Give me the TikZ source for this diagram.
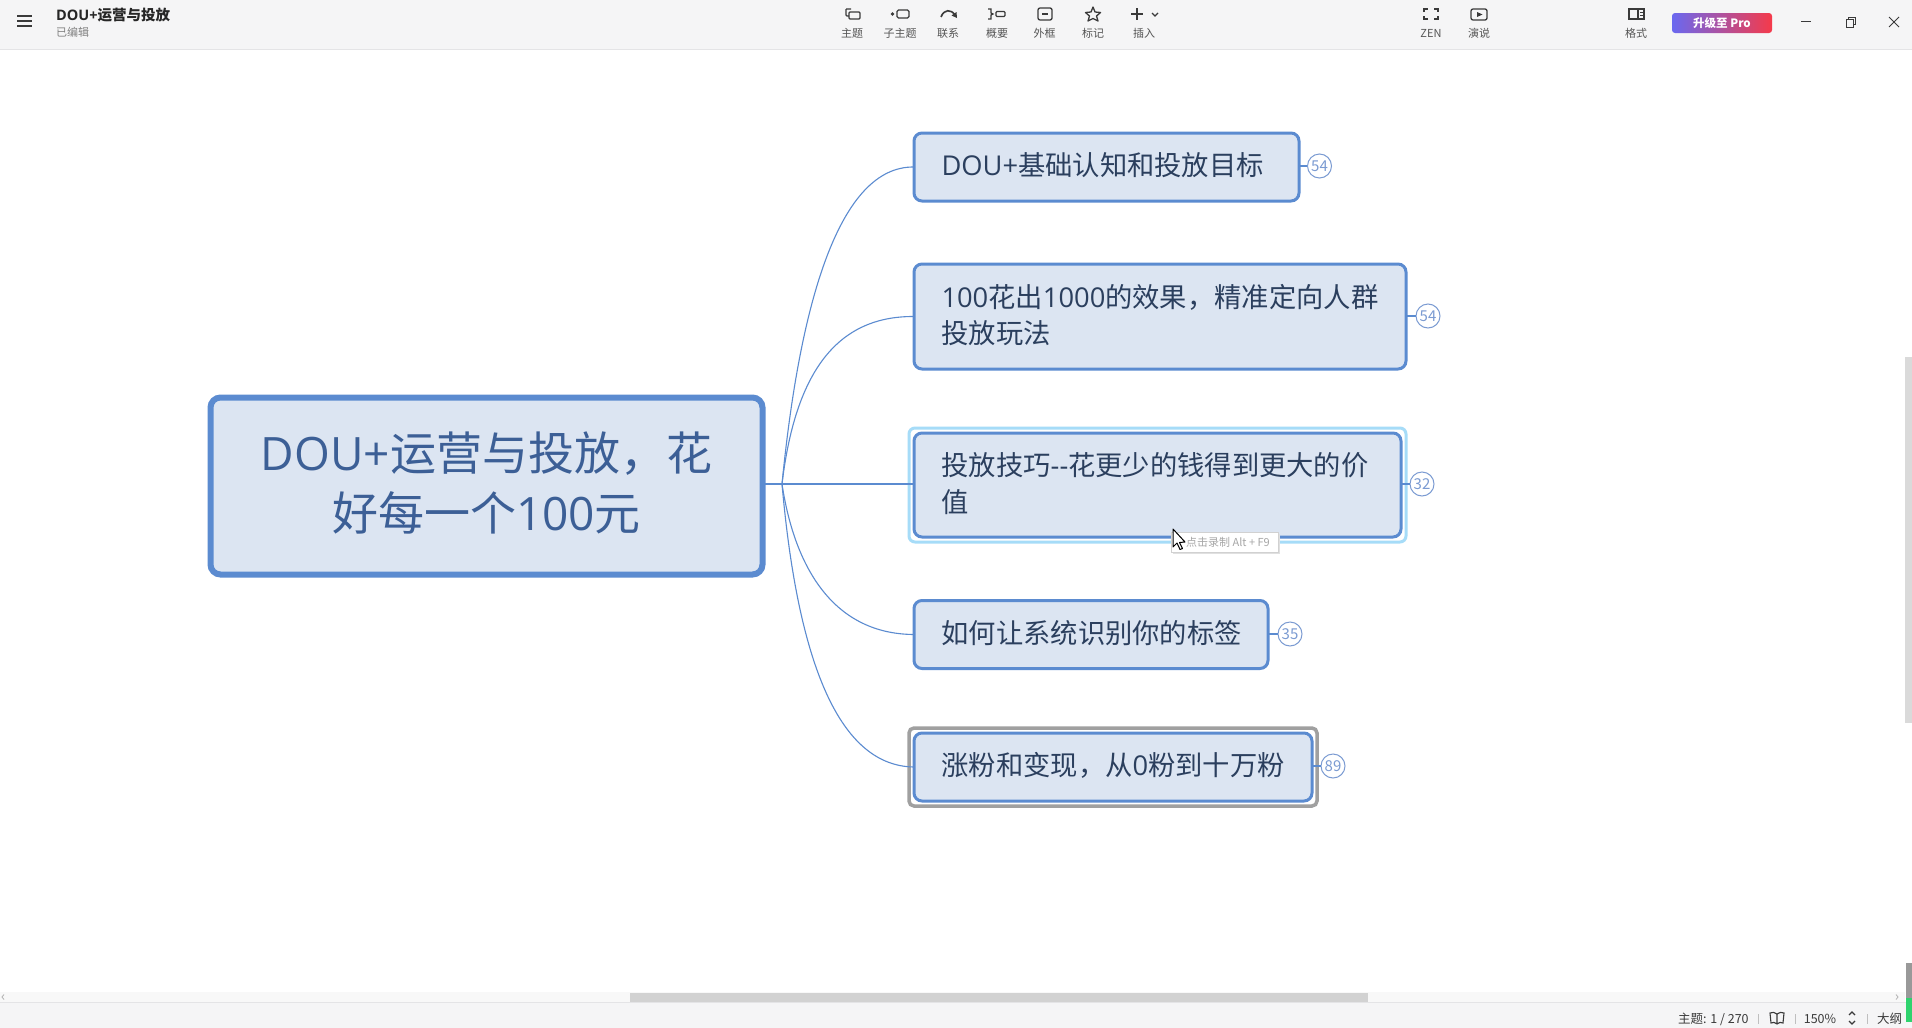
\documentclass[tikz,border=0pt]{standalone}
\usepackage{fontspec}
\setmainfont{Noto Sans CJK SC}
\newfontfamily\lat{Open Sans}
\usetikzlibrary{shapes.geometric,shadows}
\definecolor{bar}{HTML}{F5F5F6}
\definecolor{edge}{HTML}{E4E4E6}
\definecolor{blue}{HTML}{5B8BD0}
\definecolor{fillb}{HTML}{DCE5F2}
\definecolor{rootink}{HTML}{3C5F96}
\definecolor{ink}{HTML}{2B3F5E}
\definecolor{iconc}{HTML}{3A3A3A}
\definecolor{labelc}{HTML}{555555}
\definecolor{badge}{HTML}{7B9BD2}
\definecolor{propurple}{HTML}{6A68F0}
\definecolor{prored}{HTML}{F53A4A}
\definecolor{selc}{HTML}{A6DCF8}
\definecolor{grayc}{HTML}{A0A0A0}
\definecolor{track}{HTML}{F8F8F8}
\definecolor{thumb}{HTML}{D2D2D2}
\definecolor{vthumb}{HTML}{DADADA}
\definecolor{greenc}{HTML}{2FD36E}
\tikzset{
 x=1pt,y=-1pt,
 rootbox/.style={draw=blue,fill=fillb,line width=6pt,rounded corners=10pt,inner sep=0pt,outer sep=0pt,align=center,text=rootink,font=\fontsize{46}{60}\selectfont,text width=530pt,execute at end node={\par\vspace*{7pt}}},
 childbox/.style={draw=blue,fill=fillb,line width=3pt,rounded corners=8pt,inner sep=0pt,outer sep=0pt,align=left,text=ink,font=\fontsize{27.3}{36.6}\selectfont,execute at end node={\par\vspace*{3pt}}},
 badgenode/.style={circle,draw=badge,fill=white,line width=1pt,minimum size=24pt,inner sep=0pt,text=badge,font=\fontsize{15}{15}\selectfont},
 conn/.style={draw=blue,line width=1.1pt},
 toollabel/.style={inner sep=0pt,text=labelc,font=\fontsize{11}{11}\selectfont},
 statuslabel/.style={inner sep=0pt,text=iconc,font=\fontsize{12}{12}\selectfont},
 ico/.style={draw=iconc,line width=1.3pt},
}
\begin{document}
\begin{tikzpicture}
\useasboundingbox (0,0) rectangle (1912,1028);
\fill[white] (0,0) rectangle (1912,1028);
% top bar
\fill[bar] (0,0) rectangle (1912,49);
\draw[edge,line width=1pt] (0,49.5) -- (1912,49.5);
\draw[line width=2pt,draw=iconc] (17,16) -- (32,16) (17,21) -- (32,21) (17,26) -- (32,26);
\node[anchor=west,inner sep=0pt,text=black!85,font=\fontsize{14.5}{15}\selectfont\bfseries] (title) at (56,15.5) {{\lat DOU+}运营与投放};
\node[anchor=west,inner sep=0pt,text=black!50,font=\fontsize{11}{11}\selectfont] (edited) at (56,32) {已编辑};
% toolbar labels
\node[toollabel] (t1) at (852,33) {主题};
\node[toollabel] (t2) at (900,33) {子主题};
\node[toollabel] (t3) at (948,33) {联系};
\node[toollabel] (t4) at (997,33) {概要};
\node[toollabel] (t5) at (1044.5,33) {外框};
\node[toollabel] (t6) at (1093,33) {标记};
\node[toollabel] (t7) at (1144,33) {插入};
\node[toollabel] (t8) at (1431,33) {ZEN};
\node[toollabel] (t9) at (1479,33) {演说};
\node[toollabel] (t10) at (1636,33) {格式};
% toolbar icons
\draw[ico,rounded corners=1pt] (849,12) rectangle (860,19);
\draw[ico,rounded corners=1pt] (846,9) -- (846,16) -- (849,16) (846,9) -- (851,9);
\fill[iconc] (892.5,14) circle (1.8);
\draw[ico,rounded corners=1.5pt] (897,10) rectangle (909,18);
\draw[ico,line width=1.6pt] (941,17) .. controls (944,9) and (951,9) .. (955,15);
\fill[iconc] (957,18) -- (951.5,15.5) -- (956.5,12) -- cycle;
\draw[ico] (988,9) -- (991,9) -- (991,13) -- (993,14) -- (991,15) -- (991,19) -- (988,19);
\draw[ico,rounded corners=1pt] (996,11.5) rectangle (1005,16.5);
\draw[ico,rounded corners=2pt] (1038,8) rectangle (1052,20);
\draw[ico] (1042,14) -- (1048,14);
\draw[ico,line join=round] (1093,7) -- (1095,12) -- (1100.5,12.5) -- (1096.5,16) -- (1098,21) -- (1093,18.5) -- (1088,21) -- (1089.5,16) -- (1085.5,12.5) -- (1091,12) -- cycle;
\draw[ico,line width=1.5pt] (1131,14) -- (1143,14) (1137,8) -- (1137,20);
\draw[ico] (1152,13) -- (1155,16) -- (1158,13);
\draw[ico] (1424,12) -- (1424,9) -- (1428,9) (1434,9) -- (1438,9) -- (1438,12) (1438,16) -- (1438,19) -- (1434,19) (1428,19) -- (1424,19) -- (1424,16);
\draw[ico,rounded corners=2pt] (1471,9) rectangle (1487,20);
\fill[iconc] (1477,12) -- (1482.5,14.5) -- (1477,17) -- cycle;
\draw[ico] (1629,9) rectangle (1644,19);
\draw[ico] (1638,9) -- (1638,19);
\draw[iconc,line width=1pt] (1640,12) -- (1642.5,12) (1640,15) -- (1642.5,15);
% pro button
\shade[left color=propurple,right color=prored,rounded corners=3pt] (1672,13) rectangle (1772,33);
\node[inner sep=0pt,text=white,font=\fontsize{11.5}{12}\selectfont\bfseries] (pro) at (1722,23) {升级至 Pro};
% window buttons
\draw[iconc,line width=1pt] (1801,21.5) -- (1811,21.5);
\draw[iconc,line width=1pt] (1846,19) rectangle (1853,27);
\draw[iconc,line width=1pt] (1848,19) -- (1848,17) -- (1855,17) -- (1855,24) -- (1853,24);
\draw[iconc,line width=1pt] (1889,17) -- (1899,27) (1899,17) -- (1889,27);
% mind map
\coordinate (hub) at (782,484);
\node[rootbox,minimum width=552pt,minimum height=177pt] (root) at (486.5,486) {{\lat DOU+}运营与投放，花\\好每一个{\lat 100}元};
\node[childbox,minimum width=385pt,minimum height=68pt,text width=330pt] (c1) at (1106.5,167) {{\lat DOU+}基础认知和投放目标};
\node[childbox,minimum width=492pt,minimum height=105pt,text width=437pt] (c2) at (1160,316.5) {{\lat 100}花出{\lat 1000}的效果，精准定向人群\\投放玩法};
\draw[draw=selc,line width=3pt,rounded corners=6pt,fill=white] (909,428) rectangle (1406,542);
\node[childbox,minimum width=487pt,minimum height=104pt,text width=432pt] (c3) at (1157.5,485) {投放技巧{\lat -{}-}花更少的钱得到更大的价\\值};
\node[childbox,minimum width=354pt,minimum height=68pt,text width=299pt] (c4) at (1091,634.5) {如何让系统识别你的标签};
\draw[draw=grayc,line width=3.5pt,rounded corners=5pt,fill=white] (909,728) rectangle (1317,806);
\node[childbox,minimum width=398pt,minimum height=68pt,text width=343pt] (c5) at (1113,767) {涨粉和变现，从{\lat 0}粉到十万粉};
\node[badgenode] (b1) at (1319.5,166) {54};
\node[badgenode] (b2) at (1428,316) {54};
\node[badgenode] (b3) at (1422,484) {32};
\node[badgenode] (b4) at (1290,634) {35};
\node[badgenode] (b5) at (1333,766) {89};
\draw[conn] (root.east |- hub) -- (hub);
\draw[conn] (hub) .. controls (800,300) and (840,166) .. (c1.west);
\draw[conn] (hub) .. controls (795,375) and (835,316) .. (c2.west);
\draw[conn] (hub) -- (c3.west |- hub);
\draw[conn] (hub) .. controls (795,570) and (835,634) .. (c4.west);
\draw[conn] (hub) .. controls (798,665) and (840,766) .. (c5.west);
\draw[conn] (c1.east |- b1) -- (b1);
\draw[conn] (c2.east |- b2) -- (b2);
\draw[conn] (c3.east |- b3) -- (b3);
\draw[conn] (c4.east |- b4) -- (b4);
\draw[conn] (c5.east |- b5) -- (b5);
% tooltip and cursor
\fill[black!12] (1173,534) rectangle (1280,554);
\draw[fill=white,draw=black!18,line width=.7pt] (1171,532) rectangle (1278,552);
\node[inner sep=0pt,text=black!35,font=\fontsize{11}{11}\selectfont] (tip) at (1228,542) {点击录制 Alt + F9};
\draw[fill=white,draw=black,line width=1pt,line join=round] (1173,529) -- (1173,547) -- (1177,543) -- (1180,549.5) -- (1182.5,548.5) -- (1179.5,542.5) -- (1185,542) -- cycle;
% bottom bars
\fill[track] (0,992) rectangle (1905,1002);
\fill[thumb] (630,993) rectangle (1368,1002);
\fill[bar] (0,1003) rectangle (1912,1028);
\draw[edge,line width=.8pt] (0,1002.5) -- (1912,1002.5);
\draw[black!30,line width=.8pt] (4,994.5) -- (2,997) -- (4,999.5) (1896,994.5) -- (1898,997) -- (1896,999.5);
\node[statuslabel,anchor=west,font=\fontsize{12.5}{12}\selectfont] (s1) at (1678,1019) {主题: 1 / 270};
\node[statuslabel,font=\fontsize{12.5}{12}\selectfont] (s2) at (1820,1019) {150\%};
\node[statuslabel,anchor=west,font=\fontsize{12.5}{12}\selectfont] (s3) at (1877,1019) {大纲};
\draw[black!25,line width=.8pt] (1758,1014) -- (1758,1024) (1795,1014) -- (1795,1024) (1867,1014) -- (1867,1024);
\draw[iconc,line width=1.1pt] (1777,1014) .. controls (1775,1012) and (1772,1012) .. (1770,1013) -- (1771,1023) .. controls (1773,1022) and (1775,1022) .. (1777,1024) .. controls (1779,1022) and (1781,1022) .. (1783,1023) -- (1784,1013) .. controls (1782,1012) and (1779,1012) .. (1777,1014) -- (1777,1024);
\draw[iconc,line width=1.2pt] (1849,1015) -- (1852,1012) -- (1855,1015) (1849,1021) -- (1852,1024) -- (1855,1021);
% right scrollbar
\fill[vthumb] (1905,357) rectangle (1912,723);
\fill[black!40] (1906,963) rectangle (1912,998);
\fill[greenc] (1906,998) rectangle (1912,1022);
\end{tikzpicture}
\end{document}
